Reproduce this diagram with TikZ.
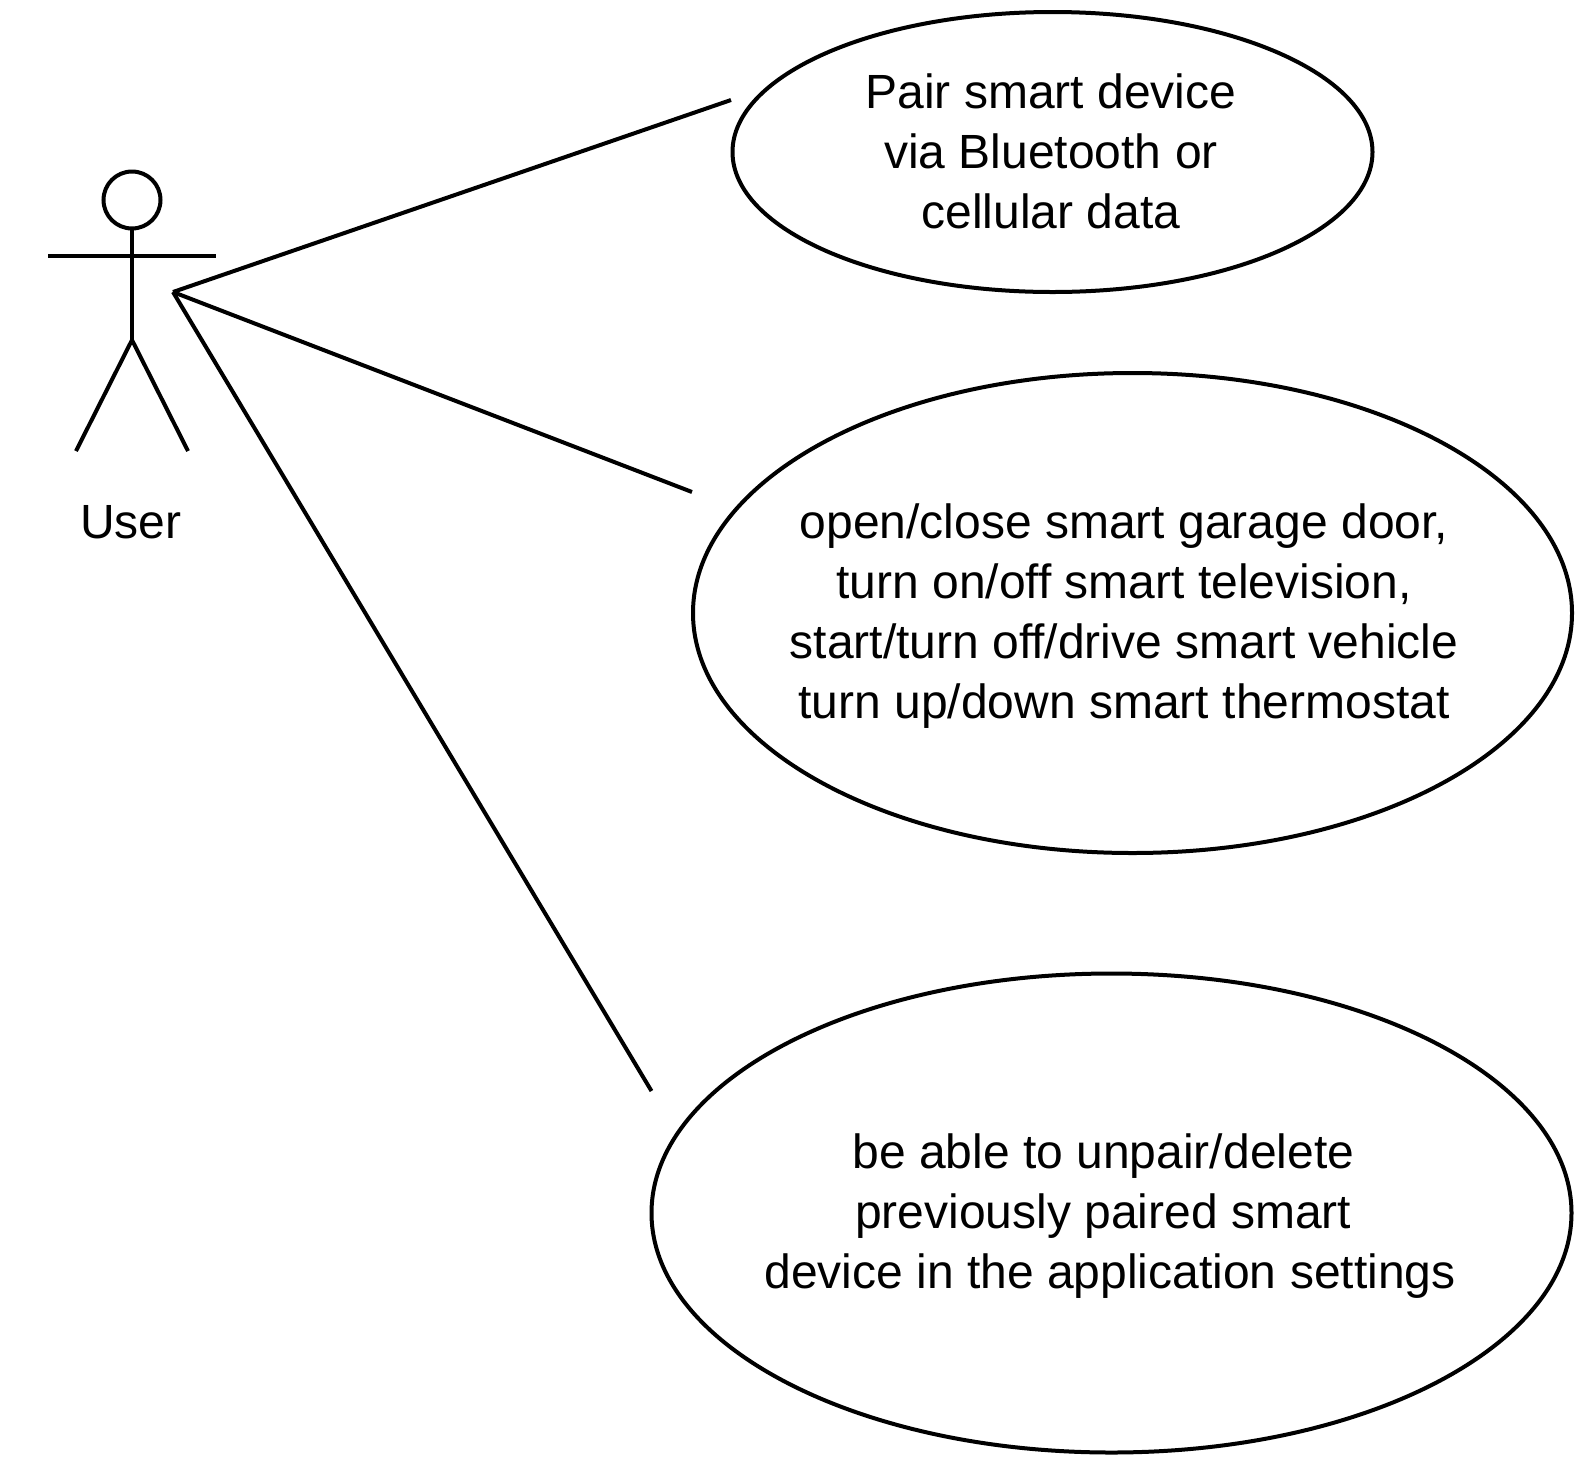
\documentclass[tikz,border=0pt]{standalone}
\usepackage{fontspec}
\setmainfont{Liberation Sans}
\usetikzlibrary{shapes.geometric}

\newcommand{\padsp}{\ \mbox{}}

\tikzset{
    usecase/.style={draw,ellipse,inner sep=0pt,outer sep=0pt},
    casetext/.style={align=center,inner sep=0pt,font=\fontsize{48}{60}\selectfont}
}

\begin{document}
\begin{tikzpicture}[x=1pt,y=-1pt,line width=4pt]
        \useasboundingbox (0,0) rectangle (1580,1460);

        \node[draw,circle,inner sep=0pt,outer sep=0pt,minimum size=57pt] (head) at (132,200) {};
        \coordinate (hip) at (132,340);
        \coordinate (armL) at (48,256);
        \coordinate (armR) at (216,256);
        \coordinate (footL) at (76,451);
        \coordinate (footR) at (188,451);
        \coordinate (hub) at (173,292);
        \draw (head.south) -- (hip);
        \draw (armL) -- (armR);
        \draw (footL) -- (hip) -- (footR);
        \node[casetext] (user) at (131,522) {User};

        \foreach \name/\x/\y/\w/\h/\s/\t/\A in {
        pair/1052.5/152/640/280/-1.5/1/{Pair smart device\\via Bluetooth or\\cellular data},
        control/1132.5/613/879/480/-8.5/-3/{open/close smart garage door,\\turn on/off smart television,\\start/turn off/drive smart vehicle\\turn up/down smart thermostat},
        unpair/1111.5/1213/920/479/-1.5/-3/{be able to unpair/delete\padsp\\previously paired smart\padsp\\device in the application settings}} {
        \node[usecase,minimum width=\w pt,minimum height=\h pt] (\name) at (\x,\y) {};
        \node[casetext,xshift=\s pt,yshift=\t pt] (\name text) at (\name) {\A};
        }

        \coordinate (pairEnd) at (731,100);
        \coordinate (controlEnd) at (692,492);
        \coordinate (unpairEnd) at (651.5,1091);
        \draw (hub) -- (pairEnd);
        \draw (hub) -- (controlEnd);
        \draw (hub) -- (unpairEnd);
    \end{tikzpicture}
\end{document}
